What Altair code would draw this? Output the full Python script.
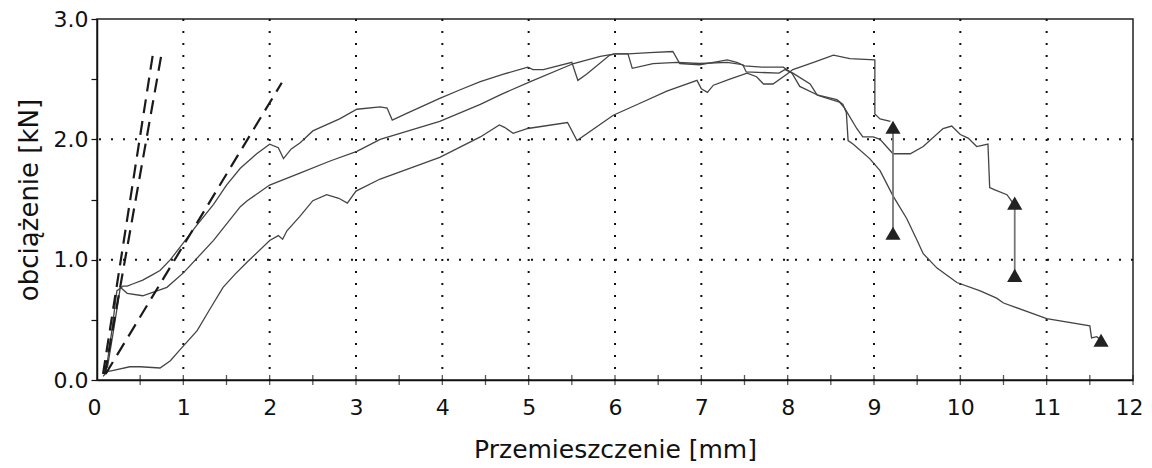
import altair as alt
import pandas as pd

# --- data ---
c1_x = [0.10, 0.17, 0.23, 0.30, 0.35, 0.42, 0.53, 0.63, 0.73, 0.85, 1.00, 1.15, 1.35, 1.50, 1.66, 1.85,
        2.00, 2.10, 2.16, 2.25, 2.35, 2.50, 2.81, 3.01, 3.28, 3.36, 3.42, 3.60, 3.97, 4.20, 4.44, 4.70,
        4.99, 5.05, 5.17, 5.50, 5.57, 5.67, 5.94, 6.00, 6.15, 6.40, 6.67, 6.75, 6.98, 7.14, 7.30, 7.41,
        7.50, 7.70, 7.95, 8.05, 8.14, 8.37, 8.60, 8.66, 8.80, 8.87, 8.99, 9.07, 9.22, 9.42, 9.57, 9.80,
        9.90, 10.00, 10.09, 10.19, 10.32, 10.34, 10.40, 10.54, 10.61]
c1_y = [0.05, 0.40, 0.74, 0.78, 0.78, 0.80, 0.83, 0.87, 0.91, 1.00, 1.14, 1.28, 1.46, 1.62, 1.76, 1.88,
        1.96, 1.93, 1.84, 1.92, 1.97, 2.07, 2.17, 2.25, 2.27, 2.26, 2.16, 2.22, 2.34, 2.41, 2.48, 2.54,
        2.60, 2.58, 2.58, 2.64, 2.49, 2.54, 2.70, 2.71, 2.71, 2.72, 2.73, 2.63, 2.62, 2.64, 2.66, 2.64,
        2.61, 2.60, 2.60, 2.55, 2.44, 2.36, 2.31, 2.26, 2.09, 2.02, 2.02, 2.00, 1.88, 1.88, 1.94, 2.09,
        2.11, 2.04, 2.01, 1.94, 1.96, 1.60, 1.58, 1.54, 1.47]

c2_x = [0.12, 0.20, 0.27, 0.35, 0.53, 0.81, 1.00, 1.35, 1.66, 1.74, 2.00, 2.35, 2.70, 3.01, 3.28, 3.97,
        4.44, 4.67, 5.02, 5.52, 5.83, 6.00, 6.15, 6.20, 6.44, 6.72, 6.98, 7.30, 7.48, 7.52, 7.90, 7.97,
        8.06, 8.26, 8.34, 8.57, 8.64, 8.68, 8.70, 8.76, 8.95, 9.07, 9.22, 9.38, 9.50, 9.57, 9.73, 9.96,
        10.23, 10.42, 10.50, 11.00, 11.50, 11.52, 11.58, 11.63]
c2_y = [0.10, 0.45, 0.77, 0.72, 0.70, 0.77, 0.89, 1.16, 1.44, 1.49, 1.62, 1.72, 1.82, 1.90, 2.00, 2.15,
        2.29, 2.37, 2.48, 2.63, 2.69, 2.71, 2.71, 2.59, 2.63, 2.64, 2.63, 2.64, 2.62, 2.56, 2.55, 2.58,
        2.55, 2.46, 2.37, 2.33, 2.29, 2.22, 1.99, 1.96, 1.84, 1.74, 1.53, 1.34, 1.16, 1.05, 0.93, 0.81,
        0.74, 0.68, 0.64, 0.51, 0.45, 0.35, 0.36, 0.33]

c3_x = [0.07, 0.12, 0.19, 0.38, 0.50, 0.73, 0.85, 0.96, 1.16, 1.30, 1.46, 1.60, 1.74, 2.00, 2.10, 2.15,
        2.20, 2.35, 2.50, 2.66, 2.80, 2.90, 3.00, 3.28, 3.97, 4.44, 4.66, 4.72, 4.82, 4.99, 5.45, 5.56,
        5.98, 6.29, 6.60, 6.95, 7.00, 7.07, 7.14, 7.33, 7.53, 7.64, 7.72, 7.83, 7.99, 8.06, 8.30, 8.53,
        8.72, 9.01, 9.01, 9.07, 9.19]
c3_y = [0.03, 0.07, 0.08, 0.11, 0.11, 0.10, 0.16, 0.25, 0.41, 0.58, 0.77, 0.88, 0.98, 1.16, 1.20, 1.17,
        1.24, 1.36, 1.49, 1.54, 1.51, 1.47, 1.57, 1.67, 1.85, 2.02, 2.12, 2.10, 2.05, 2.09, 2.14, 1.99,
        2.20, 2.30, 2.40, 2.49, 2.42, 2.39, 2.45, 2.50, 2.55, 2.52, 2.46, 2.46, 2.54, 2.58, 2.64, 2.70,
        2.67, 2.66, 2.21, 2.17, 2.15]

dash_names = ["d1", "d1", "d2", "d2", "d3", "d3"]
dash_x = [0.10, 2.14, 0.07, 0.65, 0.09, 0.745]
dash_y = [0.05, 2.47, 0.05, 2.72, 0.05, 2.70]

tri_x = [9.22, 9.22, 10.63, 10.63, 11.63]
tri_y = [2.10, 1.22, 1.47, 0.87, 0.33]

seg_x = [9.22, 10.63]
seg_y1 = [1.22, 0.87]
seg_y2 = [2.10, 1.47]

x_labels = list(range(0, 13))
x_minor = [i * 0.5 for i in range(1, 25)]
y_ticks = [i * 0.5 for i in range(0, 7)]
x_grid = list(range(1, 12))
y_grid = [1.0, 2.0]

# --- tables ---
rows = []
for name, xs, ys in (("c1", c1_x, c1_y), ("c2", c2_x, c2_y), ("c3", c3_x, c3_y)):
    for i, (a, b) in enumerate(zip(xs, ys)):
        rows.append({"series": name, "idx": i, "x": a, "y": b})
curves = pd.DataFrame(rows)
dashes = pd.DataFrame({"series": dash_names, "x": dash_x, "y": dash_y,
                       "idx": list(range(len(dash_x)))})
tris = pd.DataFrame({"x": tri_x, "y": tri_y})
segs = pd.DataFrame({"x": seg_x, "y": seg_y1, "y2": seg_y2})
xg = pd.DataFrame({"x": x_grid})
yg = pd.DataFrame({"y": y_grid})
xm = pd.DataFrame({"x": x_minor})

FONT = "DejaVu Sans"
xs_ = alt.Scale(domain=[0, 12], nice=False, zero=False)
ys_ = alt.Scale(domain=[0, 3], nice=False, zero=False)
xaxis = alt.Axis(values=x_labels, title="Przemieszczenie [mm]", ticks=False, tickSize=0,
                 grid=False, labelFontSize=22, labelPadding=17, labelFont=FONT,
                 labelFlush=True, labelFlushOffset=10,
                 titleFont=FONT, titleFontSize=25, titleFontWeight="normal", titlePadding=19,
                 domainColor="#111", domainWidth=1.5, labelColor="#111", titleColor="#111")
yaxis = alt.Axis(values=y_ticks, title="obciążenie [kN]",
                 labelExpr="datum.value % 1 == 0 ? format(datum.value, '.1f') : ''",
                 ticks=True, tickSize=6, tickColor="#111", tickWidth=1.2, grid=False,
                 labelFontSize=22, labelPadding=3, labelFont=FONT, labelFlush=False,
                 titleFont=FONT, titleFontSize=26, titleFontWeight="normal", titlePadding=11,
                 domainColor="#111", domainWidth=1.5, labelColor="#111", titleColor="#111")

X = lambda f="x": alt.X(f"{f}:Q", scale=xs_, axis=xaxis)
Y = lambda f="y": alt.Y(f"{f}:Q", scale=ys_, axis=yaxis)

grid_x = alt.Chart(xg).mark_rule(color="#111", strokeWidth=2, strokeDash=[2, 10]).encode(x=X())
grid_y = alt.Chart(yg).mark_rule(color="#111", strokeWidth=2, strokeDash=[2, 10]).encode(y=Y())

curve_layer = alt.Chart(curves).mark_line(color="#444", strokeWidth=1.3).encode(
    x=X(), y=Y(), detail="series:N", order="idx:Q")
dash_layer = alt.Chart(dashes).mark_line(color="#1a1a1a", strokeWidth=2.2, strokeDash=[14, 8]).encode(
    x=X(), y=Y(), detail="series:N", order="idx:Q")
seg_layer = alt.Chart(segs).mark_rule(color="#777", strokeWidth=1.8).encode(
    x=X(), y=Y(), y2="y2:Q")
tri_layer = alt.Chart(tris).mark_point(shape="triangle-up", filled=True, size=230,
                                       color="#222", opacity=1).encode(x=X(), y=Y())
tick_layer = alt.Chart(xm).mark_tick(orient="vertical", size=10, thickness=1.3,
                                     color="#111").encode(x=X(), y=alt.YDatum(0))

chart = alt.layer(grid_x, grid_y, curve_layer, dash_layer, seg_layer, tri_layer, tick_layer).properties(
    width=1036, height=361,
    autosize=alt.AutoSizeParams(type="none"),
    padding={"left": 89, "top": 11, "right": 11, "bottom": 88},
    background="white",
).configure_view(stroke="#222", strokeWidth=1.5)

chart.save("out.html", embed_options={"renderer": "svg", "actions": False})
